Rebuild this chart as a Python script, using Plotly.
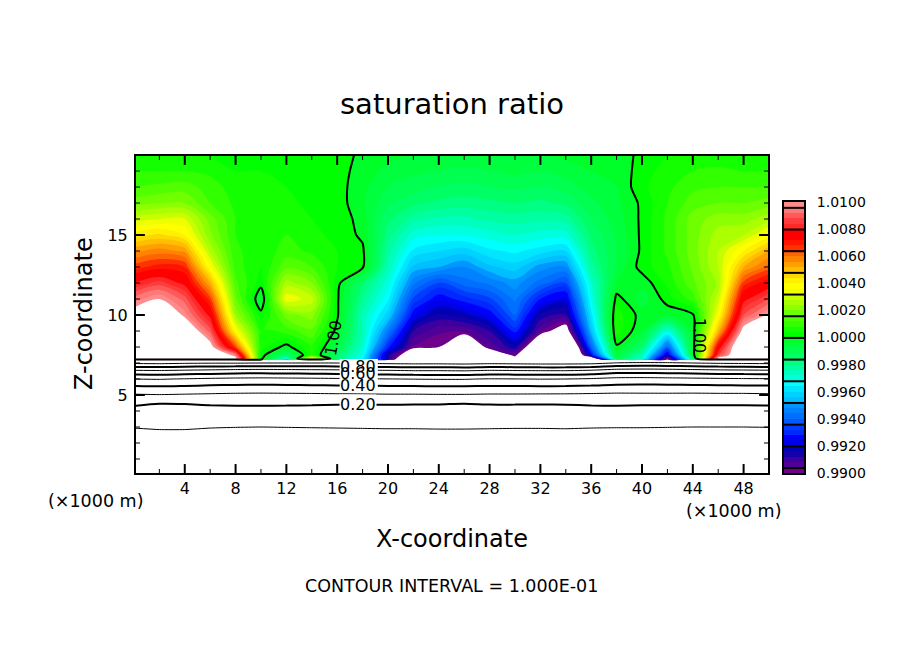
import numpy as np
import plotly.graph_objects as go

x_km = list(range(0, 52, 2))

# heights of the rows below the cloud layer, one row of values each
z_lower = [0, 1, 2, 2.5, 3, 4, 4.5, 5, 5.5, 6, 6.5, 7]
row_z0 = [0.015] * 26
row_z1 = [0.035] * 26
row_z2 = [0.06] * 26
row_z25 = [0.08, 0.083, 0.083, 0.08, 0.079, 0.078, 0.079, 0.08, 0.08, 0.081, 0.082, 0.082, 0.083,
           0.083, 0.082, 0.081, 0.081, 0.082, 0.08, 0.08, 0.08, 0.079, 0.078, 0.078, 0.078, 0.079]
row_z3 = [0.103, 0.108, 0.108, 0.103, 0.101, 0.100, 0.101, 0.102, 0.103, 0.104, 0.105, 0.105, 0.106,
          0.106, 0.105, 0.104, 0.104, 0.105, 0.103, 0.102, 0.102, 0.101, 0.100, 0.100, 0.100, 0.101]
row_z4 = [0.168] * 26
row_z45 = [0.218, 0.2035, 0.205, 0.212, 0.216, 0.216, 0.215, 0.212, 0.209, 0.209, 0.209, 0.208, 0.207,
           0.203, 0.208, 0.208, 0.207, 0.209, 0.214, 0.216, 0.213, 0.212, 0.212, 0.213, 0.213, 0.214]
row_z5 = [0.29, 0.295, 0.29, 0.285, 0.28, 0.278, 0.28, 0.282, 0.285, 0.287, 0.29, 0.29, 0.292,
          0.292, 0.288, 0.288, 0.286, 0.285, 0.282, 0.278, 0.28, 0.28, 0.278, 0.28, 0.28, 0.285]
row_z55 = [0.385, 0.39, 0.385, 0.378, 0.372, 0.37, 0.372, 0.375, 0.378, 0.382, 0.385, 0.386, 0.39,
           0.39, 0.385, 0.386, 0.388, 0.386, 0.38, 0.37, 0.368, 0.37, 0.372, 0.375, 0.378, 0.38]
row_z6 = [0.50, 0.505, 0.495, 0.485, 0.478, 0.475, 0.478, 0.482, 0.487, 0.493, 0.498, 0.502, 0.505,
          0.505, 0.495, 0.498, 0.502, 0.5, 0.49, 0.472, 0.47, 0.475, 0.48, 0.485, 0.49, 0.492]
row_z65 = [0.68, 0.685, 0.675, 0.665, 0.655, 0.65, 0.655, 0.66, 0.665, 0.675, 0.68, 0.69, 0.69,
           0.695, 0.68, 0.685, 0.69, 0.69, 0.675, 0.645, 0.64, 0.645, 0.655, 0.665, 0.67, 0.675]
row_z7 = [0.915, 0.92, 0.91, 0.905, 0.905, 0.90, 0.90, 0.90, 0.90, 0.91, 0.92, 0.925, 0.925,
          0.93, 0.92, 0.925, 0.93, 0.93, 0.925, 0.895, 0.885, 0.89, 0.90, 0.91, 0.915, 0.92]

# upper part, one column of values per x position
z_upper = [7.22, 7.28, 7.5, 8, 9, 10, 11, 12, 13, 14, 15, 16, 17, 18, 19, 20]
col_x00 = [1.0002, 1.012, 1.012, 1.012, 1.012, 1.0105, 1.0094, 1.008, 1.0066, 1.0055, 1.0042, 1.003, 1.0018, 1.0012, 1.0008, 1.0005]
col_x02 = [1.0002, 1.012, 1.012, 1.012, 1.012, 1.0115, 1.0100, 1.0086, 1.0070, 1.0058, 1.0045, 1.0032, 1.0020, 1.0013, 1.0008, 1.0005]
col_x04 = [1.0002, 1.012, 1.012, 1.012, 1.0112, 1.0098, 1.0090, 1.0078, 1.0068, 1.0055, 1.0040, 1.0032, 1.0020, 1.0014, 1.0008, 1.0005]
col_x06 = [1.0002, 1.012, 1.012, 1.0105, 1.0090, 1.0078, 1.0066, 1.0052, 1.0037, 1.0027, 1.0021, 1.0018, 1.0012, 1.0010, 1.0007, 1.0004]
col_x08 = [1.0002, 1.0105, 1.0095, 1.0065, 1.0038, 1.0024, 1.0017, 1.0013, 1.0010, 1.0009, 1.0008, 1.0008, 1.0007, 1.0006, 1.0004, 1.0003]
col_x10 = [1.0001, 1.0002, 1.0003, 1.0006, 1.0008, 1.0002, 0.9995, 1.0002, 1.0004, 1.0005, 1.0006, 1.0006, 1.0005, 1.0005, 1.0004, 1.0003]
col_x12 = [0.996, 0.997, 0.9985, 0.9998, 1.001, 1.0018, 1.0035, 1.0026, 1.0015, 1.001, 1.0008, 1.0006, 1.0005, 1.0004, 1.0003, 1.0003]
col_x14 = [1.0002, 1.004, 1.0008, 1.0008, 1.0015, 1.0022, 1.003, 1.002, 1.0012, 1.0007, 1.0005, 1.0004, 1.0003, 1.0003, 1.0002, 1.0002]
col_x16 = [0.998, 0.9985, 0.9985, 0.9992, 0.9998, 1.0001, 1.0001, 1.0002, 1.0004, 1.0004, 1.0003, 1.0003, 1.0002, 1.0002, 1.0002, 1.0002]
col_x18 = [0.996, 0.9965, 0.9968, 0.9972, 0.9975, 0.9975, 0.998, 0.9985, 1.0001, 1.0001, 0.9999, 0.9998, 0.9997, 0.9997, 0.9998, 0.9999]
col_x20 = [0.992, 0.9915, 0.9915, 0.993, 0.9945, 0.9958, 0.9965, 0.997, 0.9975, 0.9978, 0.9982, 0.9985, 0.9989, 0.9992, 0.9995, 0.9997]
col_x22 = [0.985, 0.987, 0.9885, 0.9903, 0.9912, 0.9925, 0.9935, 0.9945, 0.9955, 0.9963, 0.997, 0.9978, 0.9985, 0.999, 0.9993, 0.9996]
col_x24 = [0.985, 0.985, 0.9875, 0.99, 0.9905, 0.9915, 0.9925, 0.9935, 0.9952, 0.996, 0.9968, 0.9975, 0.9983, 0.9988, 0.9992, 0.9996]
col_x26 = [0.985, 0.985, 0.986, 0.988, 0.9905, 0.9918, 0.993, 0.9942, 0.9948, 0.9958, 0.9968, 0.9975, 0.9982, 0.9987, 0.9991, 0.9995]
col_x28 = [0.985, 0.986, 0.9885, 0.9905, 0.9912, 0.9925, 0.9935, 0.9945, 0.9955, 0.9963, 0.997, 0.9977, 0.9983, 0.9988, 0.9992, 0.9996]
col_x30 = [0.987, 0.9895, 0.9903, 0.9915, 0.993, 0.994, 0.9945, 0.995, 0.9958, 0.9965, 0.9972, 0.9978, 0.9984, 0.9989, 0.9993, 0.9996]
col_x32 = [0.985, 0.985, 0.986, 0.988, 0.9905, 0.9915, 0.9928, 0.9942, 0.995, 0.9962, 0.997, 0.9977, 0.9983, 0.9988, 0.9992, 0.9996]
col_x34 = [0.985, 0.985, 0.985, 0.986, 0.9892, 0.9912, 0.9922, 0.9935, 0.9948, 0.996, 0.997, 0.9978, 0.9985, 0.999, 0.9994, 0.9997]
col_x36 = [0.985, 0.988, 0.9925, 0.994, 0.9955, 0.9962, 0.9968, 0.9972, 0.9978, 0.9982, 0.9985, 0.9988, 0.9991, 0.9994, 0.9996, 0.9998]
col_x38 = [0.9985, 0.999, 0.9994, 0.9999, 1.0006, 1.0006, 1.0002, 0.9996, 0.9993, 0.9992, 0.9993, 0.9994, 0.9995, 0.9996, 0.9997, 0.9998]
col_x40 = [0.997, 0.9972, 0.9975, 0.9985, 0.9996, 0.9998, 0.9994, 0.9997, 1.0002, 1.0001, 1.0001, 1.0001, 1.0001, 1.0003, 1.0002, 1.0001]
col_x42 = [0.99, 0.99, 0.992, 0.994, 0.997, 0.9997, 1.0002, 1.0005, 1.0007, 1.0009, 1.0009, 1.0009, 1.0008, 1.0007, 1.0006, 1.0004]
col_x44 = [0.998, 0.9985, 0.9995, 0.9996, 0.9997, 0.9999, 1.001, 1.0015, 1.0017, 1.0018, 1.0018, 1.0018, 1.0014, 1.0011, 1.0008, 1.0005]
col_x46 = [1.0002, 1.0105, 1.0085, 1.0075, 1.005, 1.0037, 1.003, 1.0025, 1.0028, 1.0028, 1.0026, 1.0022, 1.0016, 1.0012, 1.0009, 1.0005]
col_x48 = [1.0002, 1.012, 1.012, 1.012, 1.0105, 1.0088, 1.0078, 1.0066, 1.0052, 1.004, 1.0028, 1.0022, 1.0016, 1.0012, 1.0008, 1.0005]
col_x50 = [1.0002, 1.012, 1.012, 1.012, 1.012, 1.0102, 1.0088, 1.0076, 1.0062, 1.0052, 1.0038, 1.0027, 1.0018, 1.0012, 1.0008, 1.0005]

lower = [row_z0, row_z1, row_z2, row_z25, row_z3, row_z4, row_z45, row_z5, row_z55, row_z6, row_z65, row_z7]
upper = [col_x00, col_x02, col_x04, col_x06, col_x08, col_x10, col_x12, col_x14, col_x16, col_x18, col_x20, col_x22, col_x24,
         col_x26, col_x28, col_x30, col_x32, col_x34, col_x36, col_x38, col_x40, col_x42, col_x44, col_x46, col_x48, col_x50]
z_km = z_lower + z_upper
sat = np.vstack([np.array(lower), np.array(upper).T])

# colour table of the fill, bottom to top; white outside 0.99-1.01
band_colors = [
    "rgb(110,0,140)",
    "rgb(80,0,150)", "rgb(60,0,160)", "rgb(20,0,170)", "rgb(0,0,180)",
    "rgb(0,0,230)", "rgb(0,0,255)", "rgb(0,40,255)", "rgb(0,60,255)",
    "rgb(0,90,255)", "rgb(0,110,255)", "rgb(0,130,255)", "rgb(0,150,255)",
    "rgb(0,190,255)", "rgb(0,210,255)", "rgb(0,230,255)", "rgb(0,255,255)",
    "rgb(0,255,220)", "rgb(0,255,190)", "rgb(0,255,160)", "rgb(0,255,130)",
    "rgb(0,255,100)", "rgb(0,255,80)", "rgb(0,255,60)", "rgb(0,255,40)",
    "rgb(0,255,0)", "rgb(20,255,0)", "rgb(50,255,0)", "rgb(80,255,0)",
    "rgb(110,255,0)", "rgb(140,255,0)", "rgb(170,255,0)", "rgb(200,255,0)",
    "rgb(240,255,0)", "rgb(255,255,0)", "rgb(255,240,0)", "rgb(255,215,0)",
    "rgb(255,190,0)", "rgb(255,160,0)", "rgb(255,130,0)", "rgb(255,100,0)",
    "rgb(255,50,0)", "rgb(255,20,0)", "rgb(255,0,0)", "rgb(255,0,0)",
    "rgb(255,40,40)", "rgb(255,60,60)", "rgb(255,90,90)", "rgb(255,120,120)",
    "rgb(255,140,140)",
]
all_colors = ["white"] + band_colors + ["white"]
scale = [[i / (len(all_colors) - 1), c] for i, c in enumerate(all_colors)]

level_step = 0.0004
bar_centres = [0.99 + level_step * (i + 0.5) for i in range(len(band_colors))]
bar_lines = [0.99037 + 0.0016 * i for i in range(13)]
bar_ticks = [0.99, 0.992, 0.994, 0.996, 0.998, 1.0, 1.002, 1.004, 1.006, 1.008, 1.01]

x_ticks = [4, 8, 12, 16, 20, 24, 28, 32, 36, 40, 44, 48]
x_minor_ticks = [2, 6, 10, 14, 18, 22, 26, 30, 34, 38, 42, 46]
z_ticks = [5, 10, 15]
z_minor_ticks = [1, 2, 3, 4, 6, 7, 8, 9, 11, 12, 13, 14, 16, 17, 18, 19]

W, H = 904, 654
FONT = "DejaVu Sans"
x_range = [0.16, 49.92]
z_range = [0.125, 19.94]


def px_x(p):
    return p / W


def px_y(p):
    return 1 - p / H


def tick_marks(x_vals, z_vals, x_len, z_len):
    # inward ticks on all four sides of the frame, lengths in axis units
    xs, zs = [], []
    for v in x_vals:
        xs += [v, v, None, v, v, None]
        zs += [z_range[0], z_range[0] + z_len, None, z_range[1], z_range[1] - z_len, None]
    for v in z_vals:
        xs += [x_range[0], x_range[0] + x_len, None, x_range[1], x_range[1] - x_len, None]
        zs += [v, v, None, v, v, None]
    return xs, zs


fig = go.Figure()

fig.add_trace(go.Contour(
    x=x_km, y=z_km, z=sat, colorscale=scale, showscale=False, hoverinfo="skip",
    contours=dict(coloring="fill", start=0.99, end=1.01, size=level_step),
    line=dict(width=0, smoothing=1),
))
# thin odd levels, thick even levels
fig.add_trace(go.Contour(
    x=x_km, y=z_km, z=sat, showscale=False, hoverinfo="skip",
    contours=dict(coloring="none", start=0.1, end=0.9, size=0.2),
    line=dict(color="black", width=1, smoothing=0.5),
))
fig.add_trace(go.Contour(
    x=x_km, y=z_km, z=sat, showscale=False, hoverinfo="skip",
    contours=dict(coloring="none", start=0.2, end=1.0, size=0.2),
    line=dict(color="black", width=2, smoothing=0.8),
))

# the filled contour hides axis ticks, so they go on top as line traces
major_x, major_z = tick_marks(x_ticks, z_ticks, 0.7, 0.56)
minor_x, minor_z = tick_marks(x_minor_ticks, z_minor_ticks, 0.32, 0.25)
fig.add_trace(go.Scatter(x=major_x, y=major_z, mode="lines", line=dict(color="black", width=2),
                         hoverinfo="skip", showlegend=False))
fig.add_trace(go.Scatter(x=minor_x, y=minor_z, mode="lines", line=dict(color="black", width=1),
                         hoverinfo="skip", showlegend=False))

# colour bar drawn as its own little heatmap
fig.add_trace(go.Heatmap(
    x=[0.5], y=bar_centres, z=[[v] for v in bar_centres], colorscale=scale,
    zmin=0.99 - level_step / 2, zmax=1.01 + level_step / 2, showscale=False,
    xaxis="x2", yaxis="y2", hoverinfo="skip",
))
line_x, line_y = [], []
for v in bar_lines:
    line_x += [0, 1, None]
    line_y += [v, v, None]
fig.add_trace(go.Scatter(x=line_x, y=line_y, mode="lines", line=dict(color="black", width=2),
                         xaxis="x2", yaxis="y2", hoverinfo="skip", showlegend=False))

axis_common = dict(showgrid=False, zeroline=False, showline=True, linecolor="black", linewidth=2, mirror=True,
                   ticks="", tickfont=dict(family=FONT, size=16, color="black"))

fig.update_layout(
    width=W, height=H, margin=dict(l=0, r=0, t=0, b=0, autoexpand=False),
    paper_bgcolor="white", plot_bgcolor="white", showlegend=False,
    title=dict(text="saturation ratio", x=452 / W, xanchor="center", y=px_y(104), yanchor="middle",
               font=dict(family=FONT, size=29, color="black")),
    xaxis=dict(domain=[px_x(136), px_x(768)], range=x_range, tickvals=x_ticks, **axis_common),
    yaxis=dict(domain=[px_y(473), px_y(156)], range=z_range, tickvals=z_ticks, ticklabelstandoff=3, **axis_common),
    xaxis2=dict(domain=[px_x(784), px_x(804)], range=[0, 1], anchor="y2", showticklabels=False, ticks="",
                showgrid=False, zeroline=False, showline=True, mirror=True, linecolor="black", linewidth=2),
    yaxis2=dict(domain=[px_y(473), px_y(202)], range=[0.99, 1.01], anchor="x2", side="right", tickvals=bar_ticks,
                tickformat=".4f", ticks="outside", ticklen=8, tickcolor="rgba(0,0,0,0)", showgrid=False, zeroline=False,
                showline=True, mirror=True, linecolor="black", linewidth=2,
                tickfont=dict(family=FONT, size=14, color="black")),
)

# gap the contour lines leave around their labels
fig.add_shape(type="rect", xref="x", yref="y", x0=16.2, x1=19.2, y0=5.3, y1=7.25,
              fillcolor="white", line_width=0, layer="above")


def note(text, x_px, y_px, size, angle=0):
    fig.add_annotation(text=text, x=px_x(x_px), y=px_y(y_px), xref="paper", yref="paper", showarrow=False,
                       xanchor="center", yanchor="middle", textangle=angle,
                       font=dict(family=FONT, size=size, color="black"))


def label(text, x, z, angle=0, bg=None):
    fig.add_annotation(text=text, x=x, y=z, xref="x", yref="y", showarrow=False, textangle=angle,
                       bgcolor=bg, borderpad=0, font=dict(family=FONT, size=16, color="black"))


note("X-coordinate", 452, 539, 24)
note("Z-coordinate", 84, 314, 24, -90)
note("(\u00d71000 m)", 95, 501, 17.5)
note("(\u00d71000 m)", 733, 511, 17.5)
note("CONTOUR INTERVAL = 1.000E-01", 451, 586, 17.5)

label("0.20", 17.65, 4.4, bg="white")
label("0.40", 17.65, 5.6)
label("0.60", 17.65, 6.35)
label("0.80", 17.65, 6.8)
label("1.00", 15.7, 8.6, angle=-80)
label("1.00", 44.5, 8.7, angle=90)

fig.write_html("out.html", config=dict(displayModeBar=False), post_script="document.body.style.margin='0';")
